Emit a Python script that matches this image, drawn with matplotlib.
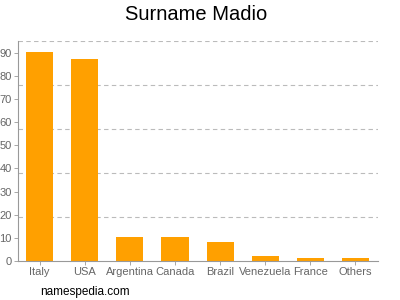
import matplotlib
matplotlib.use("Agg")
import matplotlib.pyplot as plt

plt.rcParams["font.family"] = ["Liberation Sans", "DejaVu Sans"]

categories = ["Italy", "USA", "Argentina", "Canada", "Brazil", "Venezuela", "France", "Others"]
values = [90.5, 87.3, 10.4, 10.3, 8.2, 2.1, 1.2, 1.2]
yticks = [0, 10, 20, 30, 40, 50, 60, 70, 80, 90]
gridlines = [19, 38, 57, 76, 95]

fig = plt.figure(figsize=(4, 3), dpi=100)
ax = fig.add_axes([0.045, 0.13, 0.9, 0.733])
x = range(len(categories))
ax.bar(x, values, width=0.6, color="#ffa000", zorder=2)
for g in gridlines:
    ax.axhline(g, color="#bbbbbb", lw=0.8, ls=(0, (4, 3)), zorder=1)
ax.set_xlim(-0.48, 7.5)
ax.set_ylim(0, 95)
ax.set_yticks(yticks)
ax.set_yticklabels([str(t) for t in yticks])
ax.set_xticks(list(x))
ax.set_xticklabels(categories)
ax.tick_params(axis="both", colors="#999999", labelcolor="#666666", labelsize=8, length=3, width=0.6, pad=1.5)
for s in ["top", "right"]:
    ax.spines[s].set_visible(False)
for s in ["left", "bottom"]:
    ax.spines[s].set_color("#999999")
    ax.spines[s].set_linewidth(0.8)
fig.text(0.49, 0.95, "Surname Madio", ha="center", va="center", fontsize=14.5, color="#000000")
fig.text(0.1, 0.028, "namespedia.com", ha="left", va="center", fontsize=8.5, color="#000000")
fig.savefig("out.png", dpi=100)
